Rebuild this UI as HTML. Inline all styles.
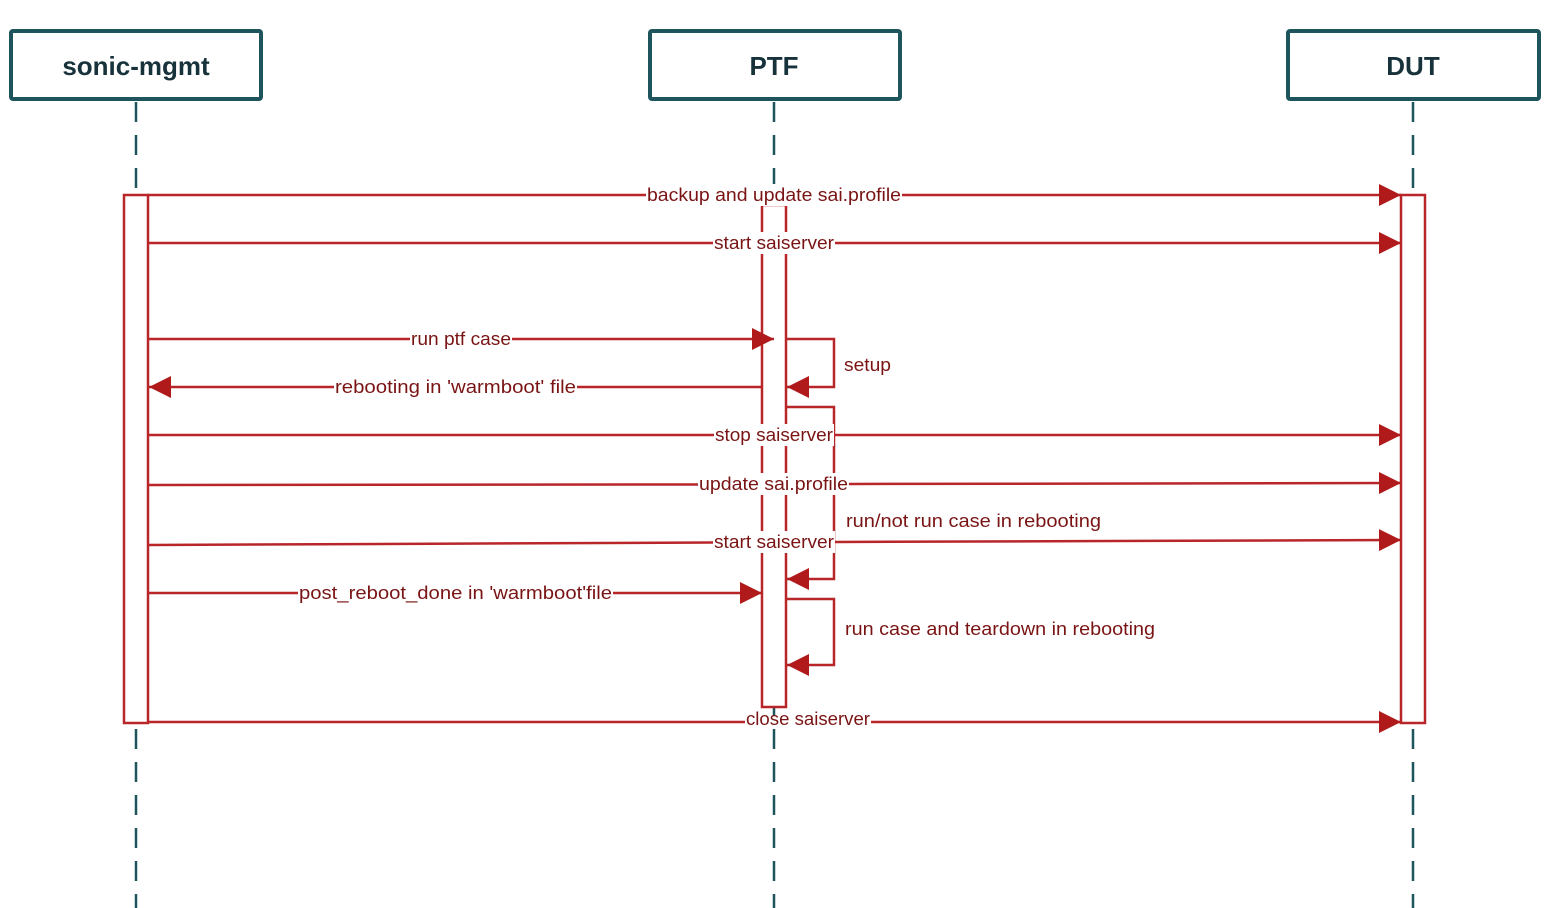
<!DOCTYPE html>
<html><head><meta charset="utf-8"><style>
html,body{margin:0;padding:0;background:#fff;}
svg{display:block;}
.l{font-family:"Liberation Sans",sans-serif;font-size:18px;fill:#7a1414;}
.h{font-family:"Liberation Sans",sans-serif;font-size:26px;font-weight:bold;fill:#17323a;}
</style></head><body>
<svg width="1552" height="908" viewBox="0 0 1552 908" xmlns="http://www.w3.org/2000/svg">
<defs>
<marker id="a" markerWidth="22" markerHeight="22" refX="22" refY="11" orient="auto" markerUnits="userSpaceOnUse">
<path d="M0,0 L22,11 L0,22 Z" fill="#b01a1a"/>
</marker>
</defs>
<g stroke="#1e555c" stroke-width="2.5" stroke-dasharray="20,13" fill="none">
<line x1="136" y1="102" x2="136" y2="908"/>
<line x1="774" y1="102" x2="774" y2="908"/>
<line x1="1413" y1="102" x2="1413" y2="908"/>
</g>
<g fill="#fff" stroke="#1e555c" stroke-width="4">
<rect x="11" y="31" width="250" height="68" rx="2"/>
<rect x="650" y="31" width="250" height="68" rx="2"/>
<rect x="1288" y="31" width="251" height="68" rx="2"/>
</g>
<text class="h" x="136" y="75" text-anchor="middle">sonic-mgmt</text>
<text class="h" x="774" y="75" text-anchor="middle">PTF</text>
<text class="h" x="1413" y="75" text-anchor="middle">DUT</text>
<rect x="762" y="205" width="24" height="502" fill="#fff" stroke="#b8262a" stroke-width="2.5"/>
<g stroke="#b8262a" stroke-width="2.5" fill="none">
<polyline points="786,339 834,339 834,387 787,387" marker-end="url(#a)"/>
<polyline points="786,407 834,407 834,579 787,579" marker-end="url(#a)"/>
<polyline points="786,599 834,599 834,665 787,665" marker-end="url(#a)"/>
</g>
<g fill="#fff">
<rect x="646" y="184" width="256" height="22"/>
<rect x="713" y="232" width="122" height="22"/>
<rect x="714" y="424" width="120" height="22"/>
<rect x="698" y="473" width="151" height="22"/>
<rect x="713" y="531" width="122" height="22"/>
</g>
<g fill="#fff" stroke="#b8262a" stroke-width="2.5">
<rect x="124" y="195" width="24" height="528"/>
<rect x="1401" y="195" width="24" height="528"/>
</g>
<g stroke="#b8262a" stroke-width="2.5" fill="none">
<line x1="148" y1="195" x2="646" y2="195"/>
<line x1="902" y1="195" x2="1401" y2="195" marker-end="url(#a)"/>
<line x1="148" y1="243" x2="713" y2="243"/>
<line x1="835" y1="243" x2="1401" y2="243" marker-end="url(#a)"/>
<line x1="148" y1="339" x2="410" y2="339"/>
<line x1="512" y1="339" x2="774" y2="339" marker-end="url(#a)"/>
<line x1="762" y1="387" x2="577" y2="387"/>
<line x1="334" y1="387" x2="149" y2="387" marker-end="url(#a)"/>
<line x1="148" y1="435" x2="714" y2="435"/>
<line x1="834" y1="435" x2="1401" y2="435" marker-end="url(#a)"/>
<line x1="148" y1="485" x2="698" y2="484.5"/>
<line x1="849" y1="484" x2="1401" y2="483" marker-end="url(#a)"/>
<line x1="148" y1="545" x2="713" y2="542.5"/>
<line x1="835" y1="542" x2="1401" y2="540" marker-end="url(#a)"/>
<line x1="148" y1="593" x2="298" y2="593"/>
<line x1="613" y1="593" x2="762" y2="593" marker-end="url(#a)"/>
<line x1="148" y1="722" x2="745" y2="722"/>
<line x1="871" y1="722" x2="1401" y2="722" marker-end="url(#a)"/>
</g>
<g class="l">
<text x="647" y="201" textLength="254" lengthAdjust="spacingAndGlyphs" class="l">backup and update sai.profile</text>
<text x="714" y="249" textLength="120" lengthAdjust="spacingAndGlyphs" class="l">start saiserver</text>
<text x="411" y="345" textLength="100" lengthAdjust="spacingAndGlyphs" class="l">run ptf case</text>
<text x="335" y="393" textLength="241" lengthAdjust="spacingAndGlyphs" class="l">rebooting in 'warmboot' file</text>
<text x="844" y="371" textLength="47" lengthAdjust="spacingAndGlyphs" class="l">setup</text>
<text x="715" y="441" textLength="118" lengthAdjust="spacingAndGlyphs" class="l">stop saiserver</text>
<text x="699" y="490" textLength="149" lengthAdjust="spacingAndGlyphs" class="l">update sai.profile</text>
<text x="846" y="527" textLength="255" lengthAdjust="spacingAndGlyphs" class="l">run/not run case in rebooting</text>
<text x="714" y="548" textLength="120" lengthAdjust="spacingAndGlyphs" class="l">start saiserver</text>
<text x="299" y="599" textLength="313" lengthAdjust="spacingAndGlyphs" class="l">post_reboot_done in 'warmboot'file</text>
<text x="845" y="635" textLength="310" lengthAdjust="spacingAndGlyphs" class="l">run case and teardown in rebooting</text>
<text x="746" y="725" textLength="124" lengthAdjust="spacingAndGlyphs" class="l">close saiserver</text>
</g>
</svg>
</body></html>
